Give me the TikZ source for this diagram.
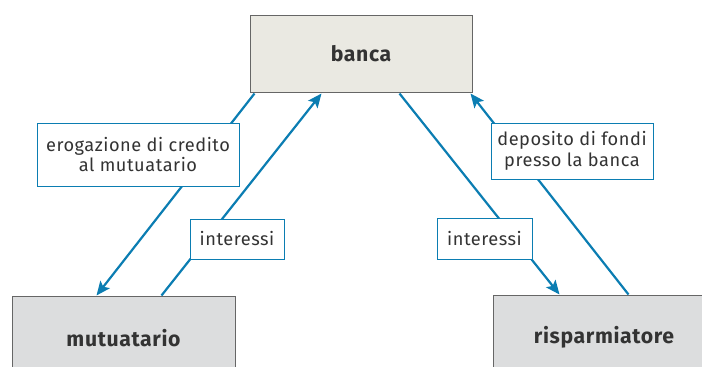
\documentclass[tikz,border=0pt]{standalone}
\usepackage{fontspec}
\setmainfont{Fira Sans}[LetterSpace=3]
\usetikzlibrary{positioning, arrows.meta}
\definecolor{flowblue}{HTML}{0B7DB2}
\definecolor{bankfill}{HTML}{EAE9E2}
\definecolor{agentfill}{HTML}{DCDDDE}
\definecolor{textgray}{HTML}{333333}

\begin{document}
\begin{tikzpicture}[x=1pt, y=-1pt,
    agent/.style={draw=black!60, line width=1pt, minimum width=223pt, minimum height=84pt,
        font=\fontsize{21.2}{24}\selectfont\bfseries, text=textgray},
    flow/.style={draw=flowblue, line width=2.2pt, -{Stealth[length=14pt, width=12pt, inset=3pt]}},
    lbl/.style={draw=flowblue, fill=white, line width=0.8pt, align=center, inner sep=0pt,
        font=\fontsize{18.2}{20.5}\selectfont, text=textgray}]
		      \clip (0,0) rectangle (702,367);
		      \node[agent, fill=bankfill, minimum width=222pt, minimum height=77pt] (banca) at (361,53.5) {banca};
		      \node[agent, fill=agentfill] (mutuatario) at (123.5,338) {mutuatario};
		      \node[agent, fill=agentfill, minimum width=222pt] (risparmiatore) at (604,337) {risparmiatore};
		      \draw[flow] ([xshift=5pt, yshift=-1pt]banca.south west) -- ([xshift=85pt]mutuatario.north west);
		      \draw[flow] ([xshift=150pt]mutuatario.north west) -- ([xshift=72pt, yshift=-1pt]banca.south west);
		      \draw[flow] ([xshift=150pt, yshift=-1pt]banca.south west) -- ([xshift=67pt]risparmiatore.north west);
		      \draw[flow] ([xshift=136pt]risparmiatore.north west) -- ([xshift=-2pt, yshift=-1pt]banca.south east);
		      \node[lbl, minimum width=202pt, minimum height=63pt] (erogazione) at (138,154.5) {erogazione di credito\\al mutuatario};
		      \node[lbl, minimum width=94pt, minimum height=40pt] (interessiM) at (237,239) {interessi};
		      \node[lbl, minimum width=95pt, minimum height=41pt] (interessiR) at (484.5,238.5) {interessi};
		      \node[lbl, minimum width=162pt, minimum height=56pt] (deposito) at (572,151) {deposito di fondi\\presso la banca};

	      \end{tikzpicture}
\end{document}
